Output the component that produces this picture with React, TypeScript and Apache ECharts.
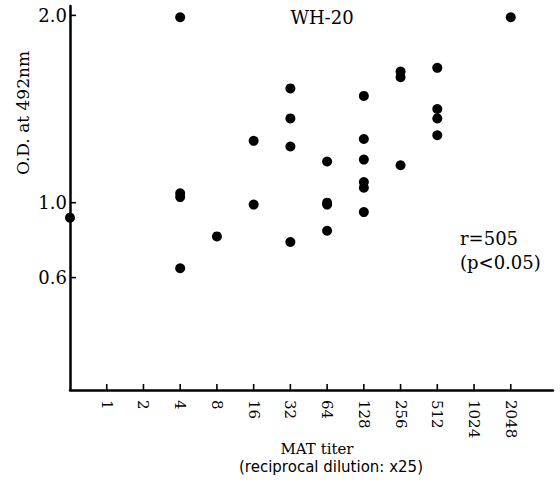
import React, { useEffect, useRef } from "react";
import * as echarts from "echarts";

// MAT titer categories (x positions 0..12), label shown for 1..12
const titerLabels = ["", "1", "2", "4", "8", "16", "32", "64", "128", "256", "512", "1024", "2048"];
// O.D. values observed at each titer index
const odAtTiter: number[][] = [
  [0.92],
  [],
  [],
  [1.99, 1.05, 1.03, 0.65],
  [0.82],
  [1.33, 0.99],
  [1.61, 1.45, 1.3, 0.79],
  [1.22, 1.0, 0.99, 0.85],
  [1.57, 1.34, 1.23, 1.11, 1.08, 0.95],
  [1.7, 1.67, 1.2],
  [1.72, 1.5, 1.45, 1.36],
  [],
  [1.99],
];
const yTicks = [0.6, 1.0, 2.0];
const xTicks = [1, 2, 3, 4, 5, 6, 7, 8, 9, 10, 11, 12];

const titleText = "WH-20";
const yTitle = "O.D. at 492nm";
const xTitle1 = "MAT titer";
const xTitle2 = "(reciprocal dilution: x25)";
const statLine1 = "r=505";
const statLine2 = "(p<0.05)";

export default function App() {
  const ref = useRef<HTMLDivElement>(null);
  useEffect(() => {
    if (!ref.current) return;
    const chart = echarts.init(ref.current, undefined, { renderer: "svg" });
    const data: number[][] = [];
    odAtTiter.forEach((vals, i) => vals.forEach((v) => data.push([i, v])));
    const serif = "DejaVu Serif";
    const xTickData = xTicks.map((t) => [t, 0]);
    const yTickData = yTicks.map((t) => [0, t]);
    chart.setOption({
      animation: false,
      backgroundColor: "#ffffff",
      grid: { left: 70, right: 7, top: 6, bottom: 100, containLabel: false },
      xAxis: {
        type: "value",
        min: 0,
        max: 13.15,
        axisLine: { show: true, lineStyle: { color: "#000", width: 2.5 } },
        axisTick: { show: false },
        axisLabel: {
          customValues: xTicks,
          rotate: -90,
          margin: 10,
          color: "#000",
          fontFamily: serif,
          fontSize: 15,
          formatter: (v: number) => titerLabels[Math.round(v)] ?? "",
        },
        splitLine: { show: false },
      },
      yAxis: {
        type: "value",
        min: 0,
        max: 2.05,
        axisLine: { show: true, lineStyle: { color: "#000", width: 2.5 } },
        axisTick: { show: false },
        axisLabel: {
          customValues: yTicks,
          margin: 3,
          color: "#000",
          fontFamily: serif,
          fontSize: 18,
          formatter: (v: number) => v.toFixed(1),
        },
        splitLine: { show: false },
      },
      series: [
        {
          type: "scatter",
          data: xTickData,
          symbol: "rect",
          symbolSize: [1.6, 6],
          symbolOffset: [0, -3],
          itemStyle: { color: "#000", opacity: 1 },
          clip: false,
          silent: true,
          z: 5,
        },
        {
          type: "scatter",
          data: yTickData,
          symbol: "rect",
          symbolSize: [6, 1.6],
          symbolOffset: [3, 0],
          itemStyle: { color: "#000", opacity: 1 },
          clip: false,
          silent: true,
          z: 5,
        },
        {
          type: "scatter",
          data,
          symbol: "circle",
          symbolSize: 10,
          itemStyle: { color: "#000", opacity: 1 },
          clip: false,
        },
      ],
      graphic: [
        {
          type: "text",
          x: 322,
          y: 17,
          style: { text: titleText, font: `18px "${serif}"`, fill: "#000", textAlign: "center", textVerticalAlign: "middle" },
        },
        {
          type: "text",
          x: 23,
          y: 113,
          rotation: Math.PI / 2,
          style: { text: yTitle, font: `17px "${serif}"`, fill: "#000", textAlign: "center", textVerticalAlign: "middle" },
        },
        {
          type: "text",
          x: 317,
          y: 449,
          style: { text: xTitle1, font: `15px "${serif}"`, fill: "#000", textAlign: "center", textVerticalAlign: "middle" },
        },
        {
          type: "text",
          x: 331,
          y: 467,
          style: { text: xTitle2, font: `15px "DejaVu Sans"`, fill: "#000", textAlign: "center", textVerticalAlign: "middle" },
        },
        {
          type: "text",
          x: 460,
          y: 238,
          style: { text: statLine1, font: `18px "${serif}"`, fill: "#000", textAlign: "left", textVerticalAlign: "middle" },
        },
        {
          type: "text",
          x: 460,
          y: 262,
          style: { text: statLine2, font: `18px "${serif}"`, fill: "#000", textAlign: "left", textVerticalAlign: "middle" },
        },
      ],
    });
    return () => chart.dispose();
  }, []);
  return (
    <div
      ref={ref}
      style={{ position: "fixed", left: 0, top: 0, width: 560, height: 490, background: "#fff" }}
    />
  );
}
